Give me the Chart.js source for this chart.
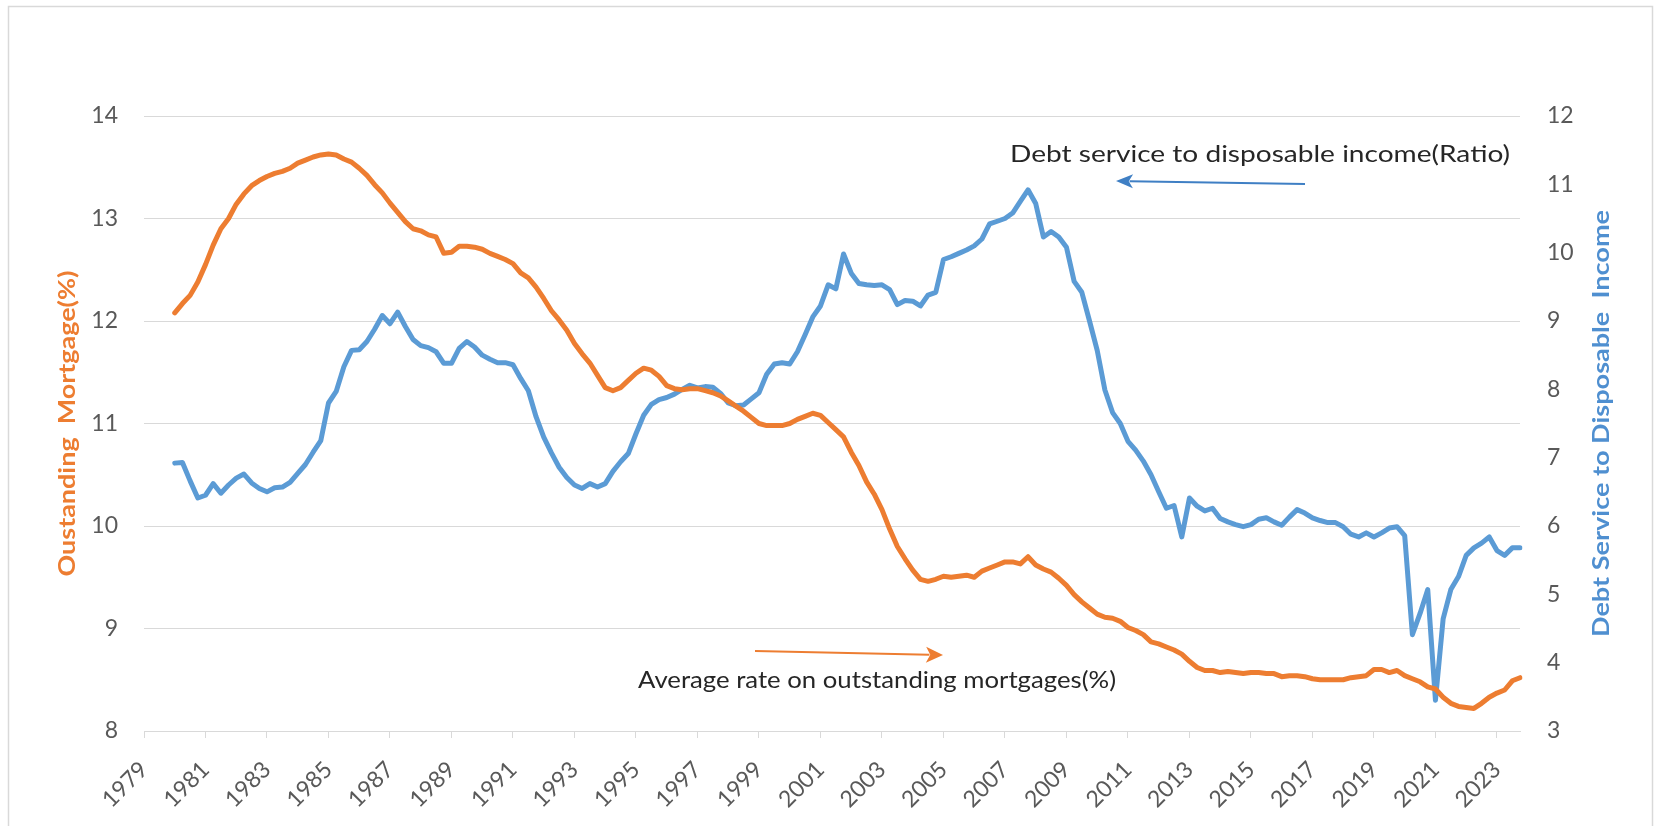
<!DOCTYPE html>
<html>
<head>
<meta charset="utf-8">
<script src="https://cdn.jsdelivr.net/npm/chart.js@4.4.1/dist/chart.umd.min.js"></script>
<style>
  html, body { margin: 0; padding: 0; background: #fff; }
</style>
</head>
<body>
<canvas id="mortgageChart" width="1655" height="826"></canvas>
<script>
// quarterly categories, 1979Q1 .. 2023Q4 (data starts 1980Q1)
const startYear = 1979;
const endYear = 2023;
const quarters = [];
for (let y = startYear; y <= endYear; y++) {
  for (let q = 1; q <= 4; q++) quarters.push(y + "Q" + q);
}

// Average rate on outstanding mortgages (%), left axis
const mortgageRate = [
  null, null, null, null, 12.08, 12.17, 12.25, 12.38,
  12.55, 12.74, 12.90, 13.00, 13.14, 13.24, 13.32, 13.37,
  13.41, 13.44, 13.46, 13.49, 13.54, 13.57, 13.60, 13.62,
  13.63, 13.62, 13.58, 13.55, 13.49, 13.42, 13.33, 13.25,
  13.15, 13.06, 12.97, 12.90, 12.88, 12.84, 12.82, 12.66,
  12.67, 12.73, 12.73, 12.72, 12.70, 12.66, 12.63, 12.60,
  12.56, 12.47, 12.42, 12.33, 12.22, 12.10, 12.01, 11.91,
  11.78, 11.68, 11.59, 11.47, 11.35, 11.32, 11.35, 11.42,
  11.49, 11.54, 11.52, 11.46, 11.37, 11.34, 11.33, 11.34,
  11.34, 11.32, 11.30, 11.27, 11.22, 11.17, 11.12, 11.06,
  11.00, 10.98, 10.98, 10.98, 11.00, 11.04, 11.07, 11.10,
  11.08, 11.01, 10.94, 10.87, 10.72, 10.59, 10.43, 10.31,
  10.16, 9.97, 9.80, 9.68, 9.57, 9.48, 9.46, 9.48,
  9.51, 9.50, 9.51, 9.52, 9.50, 9.56, 9.59, 9.62,
  9.65, 9.65, 9.63, 9.70, 9.62, 9.58, 9.55, 9.49,
  9.42, 9.33, 9.26, 9.20, 9.14, 9.11, 9.10, 9.07,
  9.01, 8.98, 8.94, 8.87, 8.85, 8.82, 8.79, 8.75,
  8.68, 8.62, 8.59, 8.59, 8.57, 8.58, 8.57, 8.56,
  8.57, 8.57, 8.56, 8.56, 8.53, 8.54, 8.54, 8.53,
  8.51, 8.50, 8.50, 8.50, 8.50, 8.52, 8.53, 8.54,
  8.60, 8.60, 8.57, 8.59, 8.54, 8.51, 8.48, 8.43,
  8.41, 8.33, 8.27, 8.24, 8.23, 8.22, 8.27, 8.33,
  8.37, 8.40, 8.49, 8.52
];

// Debt service to disposable income (ratio), right axis
const debtService = [
  null, null, null, null, 6.92, 6.93, 6.66, 6.41,
  6.45, 6.62, 6.48, 6.60, 6.70, 6.76, 6.63, 6.55,
  6.50, 6.56, 6.57, 6.64, 6.77, 6.90, 7.08, 7.25,
  7.80, 7.97, 8.33, 8.57, 8.58, 8.70, 8.88, 9.08,
  8.96, 9.13, 8.92, 8.73, 8.64, 8.61, 8.55, 8.38,
  8.38, 8.60, 8.70, 8.62, 8.50, 8.44, 8.39, 8.39,
  8.36, 8.16, 7.98, 7.60, 7.30, 7.07, 6.86, 6.71,
  6.60, 6.55, 6.62, 6.57, 6.62, 6.80, 6.94, 7.06,
  7.35, 7.62, 7.78, 7.85, 7.88, 7.93, 8.00, 8.06,
  8.02, 8.04, 8.03, 7.94, 7.80, 7.76, 7.77, 7.86,
  7.95, 8.22, 8.37, 8.39, 8.37, 8.55, 8.80, 9.06,
  9.22, 9.53, 9.47, 9.98, 9.70, 9.55, 9.53, 9.52,
  9.53, 9.46, 9.24, 9.30, 9.29, 9.22, 9.38, 9.42,
  9.90, 9.94, 9.99, 10.04, 10.10, 10.20, 10.42, 10.46,
  10.50, 10.58, 10.75, 10.92, 10.72, 10.23, 10.31, 10.23,
  10.08, 9.58, 9.42, 9.00, 8.57, 7.99, 7.66, 7.50,
  7.24, 7.11, 6.95, 6.75, 6.50, 6.26, 6.30, 5.84,
  6.41, 6.29, 6.22, 6.26, 6.11, 6.06, 6.02, 5.99,
  6.02, 6.10, 6.12, 6.06, 6.01, 6.13, 6.24, 6.19,
  6.12, 6.08, 6.05, 6.05, 5.99, 5.88, 5.84, 5.90,
  5.84, 5.90, 5.97, 5.99, 5.86, 4.41, 4.72, 5.07,
  3.45, 4.64, 5.07, 5.26, 5.57, 5.68, 5.75, 5.84,
  5.64, 5.57, 5.68, 5.68
];

const ORANGE = "#ed7d31";
const BLUE = "#5b9bd5";
const GRID = "#d9d9d9";
const TICK_TEXT = "#595959";

Chart.defaults.font.family = "Lato, 'Open Sans', sans-serif";

// text centred at (x, y), squeezed/stretched to a target width
function drawLabel(ctx, text, x, y, font, color, width, rotation) {
  ctx.save();
  ctx.font = font;
  ctx.fillStyle = color;
  ctx.textAlign = "center";
  ctx.textBaseline = "middle";
  ctx.translate(x, y);
  if (rotation) ctx.rotate(rotation);
  const w = ctx.measureText(text).width;
  ctx.scale(width / w, 1);
  ctx.fillText(text, 0, 0);
  ctx.restore();
}

function drawArrow(ctx, x1, y1, x2, y2, color, headLen, headHalf) {
  const a = Math.atan2(y2 - y1, x2 - x1);
  ctx.save();
  ctx.strokeStyle = color;
  ctx.fillStyle = color;
  ctx.lineWidth = 2;
  ctx.beginPath();
  ctx.moveTo(x1, y1);
  ctx.lineTo(x2 - Math.cos(a) * headLen * 0.8, y2 - Math.sin(a) * headLen * 0.8);
  ctx.stroke();
  ctx.translate(x2, y2);
  ctx.rotate(a);
  ctx.beginPath();
  ctx.moveTo(0, 0);
  ctx.lineTo(-headLen, -headHalf);
  ctx.lineTo(-headLen * 0.75, 0);
  ctx.lineTo(-headLen, headHalf);
  ctx.closePath();
  ctx.fill();
  ctx.restore();
}

const decorations = {
  id: "decorations",
  beforeDraw(chart) {
    const ctx = chart.ctx;
    ctx.save();
    ctx.strokeStyle = GRID;
    ctx.lineWidth = 1.5;
    ctx.strokeRect(8.5, 6.5, 1644, 840);
    ctx.restore();
  },
  afterDraw(chart) {
    const ctx = chart.ctx;
    const midY = (chart.chartArea.top + chart.chartArea.bottom) / 2;
    // axis titles, both read bottom to top
    drawLabel(ctx, "Oustanding  Mortgage(%)", 68, midY, "bold 23px Lato", ORANGE, 306, -Math.PI / 2);
    drawLabel(ctx, "Debt Service to Disposable  Income", 1602, midY, "bold 23px Lato", "#4f8fd0", 427, -Math.PI / 2);
    // notes + arrows
    drawLabel(ctx, "Debt service to disposable income(Ratio)", 1260, 154, "24px Lato", "#262626", 500, 0);
    drawArrow(ctx, 1305, 184, 1116, 181, "#3f7fc4", 17, 7);
    drawLabel(ctx, "Average rate on outstanding mortgages(%)", 877, 680, "24px Lato", "#262626", 478, 0);
    drawArrow(ctx, 755, 651, 943, 655, ORANGE, 17, 8);
  }
};

new Chart(document.getElementById("mortgageChart"), {
  type: "line",
  data: {
    labels: quarters,
    datasets: [
      {
        label: "Average rate on outstanding mortgages(%)",
        data: mortgageRate,
        yAxisID: "y",
        borderColor: ORANGE,
        borderWidth: 5,
        pointRadius: 0,
        tension: 0,
        borderJoinStyle: "round",
        borderCapStyle: "round",
      },
      {
        label: "Debt service to disposable income(Ratio)",
        data: debtService,
        yAxisID: "y2",
        borderColor: BLUE,
        borderWidth: 5,
        pointRadius: 0,
        tension: 0,
        borderJoinStyle: "round",
        borderCapStyle: "round",
      },
    ],
  },
  options: {
    responsive: false,
    animation: false,
    layout: { padding: { top: 116, left: 0, right: 0, bottom: 0 } },
    plugins: { legend: { display: false }, tooltip: { enabled: false } },
    scales: {
      x: {
        type: "category",
        offset: false,
        grid: { drawOnChartArea: false, drawTicks: true, tickLength: 7, color: GRID },
        border: { display: true, color: GRID },
        ticks: {
          autoSkip: false,
          minRotation: 45,
          maxRotation: 45,
          color: TICK_TEXT,
          padding: 18,
          font: { size: 23 },
          callback: function (value, index) {
            return index % 8 === 0 ? quarters[index].slice(0, 4) : null;
          },
        },
        afterFit: function (s) { s.height = 95; },
      },
      y: {
        position: "left",
        min: 8,
        max: 14,
        ticks: { stepSize: 1, color: TICK_TEXT, padding: 26, font: { size: 23 } },
        grid: { color: GRID, drawTicks: false },
        border: { display: false },
        afterFit: function (s) { s.width = 144; },
      },
      y2: {
        position: "right",
        min: 3,
        max: 12,
        ticks: { stepSize: 1, color: TICK_TEXT, padding: 27, font: { size: 23 } },
        grid: { drawOnChartArea: false, drawTicks: false },
        border: { display: false },
        afterFit: function (s) { s.width = 135; },
      },
    },
  },
  plugins: [decorations],
});
</script>
</body>
</html>
